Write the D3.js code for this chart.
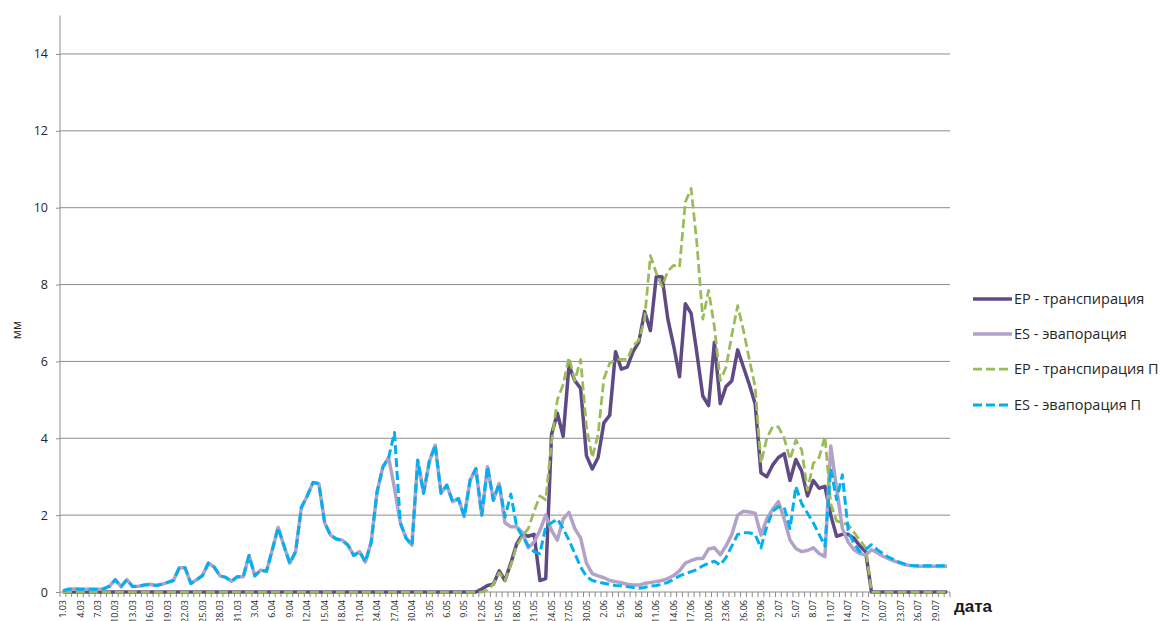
<!DOCTYPE html>
<html>
<head>
<meta charset="utf-8">
<script src="https://cdn.jsdelivr.net/npm/d3@7"></script>
<style>
  body { margin: 0; background: #fff; }
  svg { display: block; font-family: "Open Sans", sans-serif; }
</style>
</head>
<body>
<div id="chart"></div>
<script>
// months used on the x axis (day.month labels)
var months = [["03", 31], ["04", 30], ["05", 31], ["06", 30], ["07", 31]];
var dates = [];
months.forEach(function (m) {
  for (var d = 1; d <= m[1]; d++) dates.push(d + "." + m[0]);
});

var yTicks = [0, 2, 4, 6, 8, 10, 12, 14];

// EP - транспирация
var ep = [
  0, 0, 0, 0, 0, 0, 0, 0, 0, 0,
  0, 0, 0, 0, 0, 0, 0, 0, 0, 0,
  0, 0, 0, 0, 0, 0, 0, 0, 0, 0,
  0, 0, 0, 0, 0, 0, 0, 0, 0, 0,
  0, 0, 0, 0, 0, 0, 0, 0, 0, 0,
  0, 0, 0, 0, 0, 0, 0, 0, 0, 0,
  0, 0, 0, 0, 0, 0, 0, 0, 0, 0,
  0, 0, 0.08, 0.17, 0.2, 0.55, 0.3, 0.75, 1.25, 1.5,
  1.45, 1.5, 0.3, 0.35, 4.1, 4.65, 4.05, 5.9, 5.5, 5.3,
  3.55, 3.2, 3.5, 4.4, 4.6, 6.25, 5.8, 5.85, 6.25, 6.5,
  7.3, 6.8, 8.2, 8.2, 7.1, 6.4, 5.6, 7.5, 7.25, 6.2,
  5.1, 4.85, 6.5, 4.9, 5.35, 5.5, 6.3, 5.85, 5.4, 4.9,
  3.1, 3.0, 3.3, 3.5, 3.6, 2.9, 3.45, 3.15, 2.5, 2.9,
  2.7, 2.75, 2.0, 1.45, 1.5, 1.5, 1.4, 1.2, 1.05, 0,
  0, 0, 0, 0, 0, 0, 0, 0, 0, 0,
  0, 0, 0
];

// ES - эвапорация
var es = [
  0.03, 0.07, 0.08, 0.07, 0.07, 0.07, 0.07, 0.08, 0.15, 0.32,
  0.14, 0.32, 0.14, 0.15, 0.18, 0.2, 0.17, 0.2, 0.25, 0.3,
  0.63, 0.63, 0.22, 0.32, 0.43, 0.75, 0.65, 0.42, 0.38, 0.28,
  0.4, 0.4, 0.95, 0.42, 0.57, 0.54, 1.1, 1.68, 1.2, 0.75,
  1.05, 2.2, 2.5, 2.85, 2.82, 1.8, 1.48, 1.38, 1.35, 1.22,
  0.95, 1.05, 0.78, 1.3, 2.6, 3.25, 3.5, 2.7, 1.8, 1.4,
  1.22, 3.43, 2.57, 3.4, 3.82, 2.57, 2.78, 2.35, 2.43, 1.96,
  2.91, 3.21, 2.0, 3.26, 2.39, 2.82, 1.8, 1.7, 1.7, 1.55,
  1.15, 1.3, 1.6, 2.0, 1.6, 1.35, 1.9, 2.07, 1.65, 1.4,
  0.75, 0.48, 0.42, 0.37, 0.3, 0.27, 0.24, 0.2, 0.18, 0.18,
  0.22, 0.25, 0.27, 0.3, 0.35, 0.43, 0.55, 0.75, 0.82, 0.87,
  0.87, 1.12, 1.15, 0.97, 1.2, 1.5, 2.0, 2.1, 2.08, 2.05,
  1.48, 1.9, 2.15, 2.35, 1.9, 1.35, 1.13, 1.05, 1.08, 1.15,
  1.0, 0.92, 3.8, 2.7, 1.65, 1.3, 1.1, 1.0, 0.96, 1.1,
  1.02, 0.93, 0.86, 0.8, 0.75, 0.7, 0.68, 0.67, 0.67, 0.67,
  0.67, 0.67, 0.67
];

// EP - транспирация П
var epP = [
  0, 0, 0, 0, 0, 0, 0, 0, 0, 0,
  0, 0, 0, 0, 0, 0, 0, 0, 0, 0,
  0, 0, 0, 0, 0, 0, 0, 0, 0, 0,
  0, 0, 0, 0, 0, 0, 0, 0, 0, 0,
  0, 0, 0, 0, 0, 0, 0, 0, 0, 0,
  0, 0, 0, 0, 0, 0, 0, 0, 0, 0,
  0, 0, 0, 0, 0, 0, 0, 0, 0, 0,
  0, 0, 0, 0.05, 0.2, 0.5, 0.3, 0.7, 1.2, 1.45,
  1.65, 2.1, 2.5, 2.4, 3.9, 5.0, 5.4, 6.1, 5.5, 6.05,
  4.3, 3.5, 4.1, 5.55, 5.95, 6.05, 6.05, 6.05, 6.4, 6.55,
  7.1, 8.75, 8.3, 7.95, 8.35, 8.5, 8.45, 10.15, 10.5, 9.05,
  7.1, 7.85, 6.9, 5.5, 5.85, 6.7, 7.45, 6.8, 6.05, 5.35,
  3.35, 4.0, 4.3, 4.3, 4.0, 3.45, 3.95, 3.7, 2.65, 3.35,
  3.5, 4.05, 2.3, 1.85, 1.8, 1.75, 1.55, 1.35, 1.15, 0,
  0, 0, 0, 0, 0, 0, 0, 0, 0, 0,
  0, 0, 0
];

// ES - эвапорация П
var esP = [
  0.03, 0.07, 0.08, 0.07, 0.07, 0.07, 0.07, 0.08, 0.15, 0.32,
  0.14, 0.32, 0.14, 0.15, 0.18, 0.2, 0.17, 0.2, 0.25, 0.3,
  0.63, 0.63, 0.22, 0.32, 0.43, 0.75, 0.65, 0.42, 0.38, 0.28,
  0.4, 0.4, 0.95, 0.42, 0.57, 0.54, 1.1, 1.68, 1.2, 0.75,
  1.05, 2.2, 2.5, 2.85, 2.82, 1.8, 1.48, 1.38, 1.35, 1.22,
  0.95, 1.05, 0.78, 1.3, 2.6, 3.25, 3.5, 4.15, 1.8, 1.4,
  1.22, 3.43, 2.57, 3.4, 3.82, 2.57, 2.78, 2.35, 2.43, 1.96,
  2.91, 3.21, 2.0, 3.26, 2.39, 2.82, 1.95, 2.55, 1.7, 1.45,
  1.2, 1.05, 1.0, 1.7, 1.8, 1.9, 1.65, 1.35, 1.0, 0.65,
  0.4, 0.3, 0.26, 0.23, 0.2, 0.17, 0.16, 0.14, 0.12, 0.1,
  0.12, 0.15, 0.17, 0.2, 0.25, 0.33, 0.42, 0.48, 0.53, 0.58,
  0.68, 0.75, 0.8, 0.7, 0.9, 1.2, 1.5, 1.54, 1.54, 1.5,
  1.15, 1.7, 2.1, 2.22, 2.2, 1.65, 2.75, 2.3, 2.05, 1.8,
  1.5, 1.2, 3.2, 2.4, 3.05, 1.6, 1.25, 1.05, 1.1, 1.23,
  1.1, 1.0, 0.9, 0.83, 0.76, 0.71, 0.69, 0.68, 0.68, 0.68,
  0.68, 0.68, 0.68
];

var series = [
  { name: "EP - транспирация", values: ep, color: "#5f4a85", width: 3.5, dash: null },
  { name: "ES - эвапорация", values: es, color: "#b3a2c7", width: 3.5, dash: null },
  { name: "EP - транспирация П", values: epP, color: "#9bbb59", width: 2.75, dash: "9,4" },
  { name: "ES - эвапорация П", values: esP, color: "#00b0f0", width: 3, dash: "9,4" }
];

var width = 1162, height = 621;
var left = 60, right = 950, bottom = 592;

var svg = d3.select("#chart").append("svg")
  .attr("width", width)
  .attr("height", height);

svg.append("rect").attr("width", width).attr("height", height).attr("fill", "#fff");

var x = d3.scaleBand().domain(dates).range([left, right]);
var y = d3.scaleLinear().domain([0, 15]).range([bottom, bottom - 15 * 38.43]);

// gridlines
svg.append("g")
  .selectAll("line")
  .data(yTicks.filter(function (t) { return t > 0; }))
  .enter()
  .append("line")
  .attr("x1", left).attr("x2", right)
  .attr("y1", function (d) { return y(d); })
  .attr("y2", function (d) { return y(d); })
  .attr("stroke", "#8c8c8c")
  .attr("stroke-width", 1);

// y axis
var yAxis = d3.axisLeft(y).tickValues(yTicks).tickSize(4).tickPadding(8);
var gy = svg.append("g").attr("transform", "translate(" + left + ",0)").call(yAxis);
gy.select(".domain").attr("stroke", "#8c8c8c").attr("d", "M0," + y(15) + "V" + bottom);
gy.selectAll(".tick line").attr("stroke", "#8c8c8c");
gy.selectAll(".tick text").attr("fill", "#262626").style("font-size", "12.5px")
  .style("font-family", "'Open Sans', sans-serif");

// x axis line + ticks at category boundaries
svg.append("line")
  .attr("x1", left).attr("x2", right)
  .attr("y1", bottom).attr("y2", bottom)
  .attr("stroke", "#8c8c8c");

svg.append("g")
  .selectAll("line")
  .data(dates.concat(["end"]))
  .enter()
  .append("line")
  .attr("x1", function (d) { return d === "end" ? right : x(d); })
  .attr("x2", function (d) { return d === "end" ? right : x(d); })
  .attr("y1", bottom)
  .attr("y2", bottom + 5)
  .attr("stroke", "#8c8c8c");

// date labels, every 3rd day (long ones run past the bottom edge, as in the source)
svg.append("g")
  .selectAll("text")
  .data(dates.filter(function (d, i) { return i % 3 === 0; }))
  .enter()
  .append("text")
  .attr("transform", function (d) {
    return "translate(" + (x(d) + x.bandwidth() / 2) + "," + (bottom + 8) + ") rotate(-90)";
  })
  .attr("text-anchor", "end")
  .attr("dy", "0.35em")
  .attr("fill", "#262626")
  .style("font-size", "9px")
  .text(function (d) { return d; });

// lines
var line = d3.line()
  .x(function (d, i) { return x(dates[i]) + x.bandwidth() / 2; })
  .y(function (d) { return y(d); });

svg.append("g")
  .selectAll("path")
  .data(series)
  .enter()
  .append("path")
  .attr("d", function (s) { return line(s.values); })
  .attr("fill", "none")
  .attr("stroke", function (s) { return s.color; })
  .attr("stroke-width", function (s) { return s.width; })
  .attr("stroke-dasharray", function (s) { return s.dash; })
  .attr("stroke-linejoin", "round");

// legend
var legendY = [299, 334, 369, 405];
var lg = svg.append("g")
  .selectAll("g")
  .data(series)
  .enter()
  .append("g")
  .attr("transform", function (s, i) { return "translate(973," + legendY[i] + ")"; });

lg.append("line")
  .attr("x1", 0).attr("x2", 39)
  .attr("stroke", function (s) { return s.color; })
  .attr("stroke-width", function (s) { return s.width; })
  .attr("stroke-dasharray", function (s) { return s.dash; });

lg.append("text")
  .attr("x", 41)
  .attr("dy", "0.35em")
  .attr("fill", "#262626")
  .style("font-size", "14.5px")
  .text(function (s) { return s.name; });

// axis titles
svg.append("text")
  .attr("transform", "translate(21,330) rotate(-90)")
  .attr("text-anchor", "middle")
  .attr("fill", "#262626")
  .style("font-size", "12.5px")
  .text("мм");

svg.append("text")
  .attr("x", 954)
  .attr("y", 612)
  .attr("fill", "#1a1a1a")
  .style("font-size", "17px")
  .style("font-weight", "bold")
  .style("font-family", "'Liberation Sans', Arial, sans-serif")
  .text("дата");
</script>
</body>
</html>
